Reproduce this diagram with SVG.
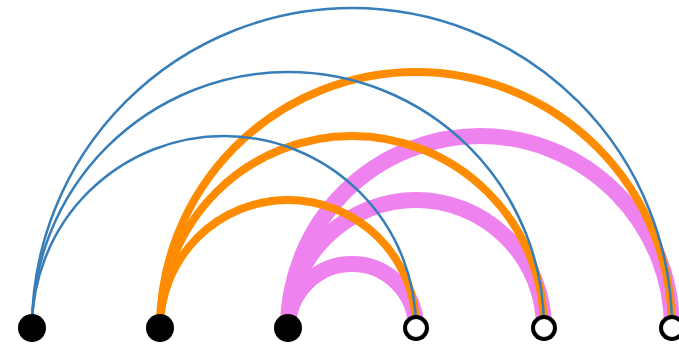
<svg xmlns="http://www.w3.org/2000/svg" width="679" height="347" viewBox="0 0 679 347">
<style>
.arc{fill:none}
.b{stroke:#377eb8;stroke-width:2.5}
.o{stroke:#ff8c00;stroke-width:8}
.p{stroke:#ee82ee;stroke-width:16}
.src{fill:#000}
.dst{fill:#fff;stroke:#000;stroke-width:4}
</style>
<rect width="679" height="347" fill="#fff"/>
<g id="connectors">
<path class="arc p" d="M288,328 A64,64 0 0,1 416,328"/>
<path class="arc p" d="M288,328 A128,128 0 0,1 544,328"/>
<path class="arc p" d="M288,328 A192,192 0 0,1 672,328"/>
<path class="arc o" d="M160,328 A128,128 0 0,1 416,328"/>
<path class="arc o" d="M160,328 A192,192 0 0,1 544,328"/>
<path class="arc o" d="M160,328 A256,256 0 0,1 672,328"/>
<path class="arc b" d="M32,328 A192,192 0 0,1 416,328"/>
<path class="arc b" d="M32,328 A256,256 0 0,1 544,328"/>
<path class="arc b" d="M32,328 A320,320 0 0,1 672,328"/>
</g>
<g id="n1"><circle class="src" cx="32" cy="328" r="14"/></g>
<g id="n2"><circle class="src" cx="160" cy="328" r="14"/></g>
<g id="n3"><circle class="src" cx="288" cy="328" r="14"/></g>
<g id="n4"><circle class="dst" cx="416" cy="328" r="11"/></g>
<g id="n5"><circle class="dst" cx="544" cy="328" r="11"/></g>
<g id="n6"><circle class="dst" cx="672" cy="328" r="11"/></g>
</svg>
